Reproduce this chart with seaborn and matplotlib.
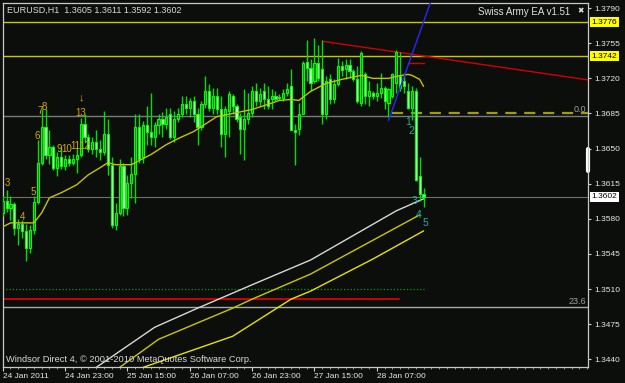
import numpy as np
import pandas as pd
import seaborn as sns
import matplotlib.pyplot as plt
from matplotlib import transforms

# EURUSD H1 bars (bar 0 = 24 Jan 2011 07:00)
opens = [1.3586, 1.3598, 1.3591, 1.3595, 1.3571, 1.3575, 1.3568, 1.3551, 1.3569, 1.3597,
         1.3636, 1.3672, 1.3644, 1.3652, 1.3631, 1.3642, 1.3633, 1.3640, 1.3636, 1.3640,
         1.3644, 1.3675, 1.3662, 1.3650, 1.3657, 1.3650, 1.3647, 1.3665, 1.3634, 1.3574,
         1.3586, 1.3633, 1.3591, 1.3616, 1.3625, 1.3672, 1.3642, 1.3674, 1.3667, 1.3662,
         1.3674, 1.3680, 1.3675, 1.3684, 1.3662, 1.3680, 1.3684, 1.3694, 1.3690, 1.3697,
         1.3684, 1.3672, 1.3694, 1.3707, 1.3690, 1.3702, 1.3689, 1.3665, 1.3687, 1.3702,
         1.3692, 1.3682, 1.3670, 1.3680, 1.3685, 1.3707, 1.3697, 1.3707, 1.3699, 1.3699,
         1.3702, 1.3701, 1.3700, 1.3705, 1.3712, 1.3669, 1.3670, 1.3684, 1.3736, 1.3730,
         1.3717, 1.3735, 1.3729, 1.3684, 1.3719, 1.3699, 1.3714, 1.3732, 1.3729, 1.3733,
         1.3727, 1.3719, 1.3695, 1.3724, 1.3702, 1.3705, 1.3702, 1.3705, 1.3710, 1.3695,
         1.3702, 1.3715, 1.3722, 1.3717, 1.3707, 1.3690, 1.3707, 1.3623, 1.3605]
highs = [1.3603, 1.3609, 1.3603, 1.3597, 1.3580, 1.3579, 1.3575, 1.3574, 1.3603, 1.3659,
         1.3689, 1.3689, 1.3669, 1.3654, 1.3647, 1.3652, 1.3644, 1.3644, 1.3645, 1.3651,
         1.3681, 1.3684, 1.3665, 1.3662, 1.3669, 1.3659, 1.3687, 1.3680, 1.3642, 1.3596,
         1.3640, 1.3636, 1.3624, 1.3642, 1.3684, 1.3684, 1.3678, 1.3692, 1.3705, 1.3677,
         1.3684, 1.3686, 1.3690, 1.3690, 1.3687, 1.3690, 1.3702, 1.3702, 1.3700, 1.3702,
         1.3690, 1.3697, 1.3722, 1.3714, 1.3710, 1.3710, 1.3702, 1.3692, 1.3707, 1.3704,
         1.3694, 1.3685, 1.3709, 1.3705, 1.3712, 1.3715, 1.3710, 1.3715, 1.3712, 1.3709,
         1.3707, 1.3704, 1.3709, 1.3715, 1.3729, 1.3675, 1.3695, 1.3737, 1.3758, 1.3739,
         1.3760, 1.3753, 1.3758, 1.3722, 1.3724, 1.3719, 1.3740, 1.3737, 1.3739, 1.3739,
         1.3729, 1.3732, 1.3747, 1.3726, 1.3717, 1.3707, 1.3715, 1.3725, 1.3712, 1.3710,
         1.3725, 1.3748, 1.3746, 1.3725, 1.3715, 1.3712, 1.3710, 1.3642, 1.3611]
lows = [1.3583, 1.3587, 1.3579, 1.3564, 1.3554, 1.3561, 1.3538, 1.3546, 1.3565, 1.3595,
        1.3634, 1.3640, 1.3635, 1.3629, 1.3623, 1.3630, 1.3629, 1.3633, 1.3634, 1.3626,
        1.3642, 1.3657, 1.3647, 1.3645, 1.3642, 1.3639, 1.3644, 1.3624, 1.3571, 1.3569,
        1.3584, 1.3583, 1.3584, 1.3601, 1.3596, 1.3636, 1.3636, 1.3654, 1.3654, 1.3652,
        1.3665, 1.3662, 1.3670, 1.3660, 1.3657, 1.3677, 1.3682, 1.3684, 1.3682, 1.3677,
        1.3654, 1.3669, 1.3690, 1.3687, 1.3684, 1.3684, 1.3652, 1.3642, 1.3662, 1.3684,
        1.3677, 1.3645, 1.3639, 1.3675, 1.3682, 1.3692, 1.3692, 1.3689, 1.3689, 1.3689,
        1.3697, 1.3698, 1.3697, 1.3702, 1.3669, 1.3634, 1.3664, 1.3684, 1.3717, 1.3707,
        1.3715, 1.3717, 1.3675, 1.3680, 1.3694, 1.3695, 1.3712, 1.3722, 1.3719, 1.3720,
        1.3717, 1.3695, 1.3692, 1.3694, 1.3692, 1.3699, 1.3697, 1.3700, 1.3689, 1.3682,
        1.3700, 1.3705, 1.3707, 1.3705, 1.3689, 1.3679, 1.3618, 1.3598, 1.3592]
closes = [1.3598, 1.3591, 1.3595, 1.3571, 1.3575, 1.3568, 1.3551, 1.3569, 1.3597, 1.3636,
          1.3672, 1.3644, 1.3652, 1.3631, 1.3642, 1.3633, 1.3640, 1.3636, 1.3640, 1.3644,
          1.3675, 1.3662, 1.3650, 1.3657, 1.3650, 1.3647, 1.3665, 1.3634, 1.3574, 1.3586,
          1.3633, 1.3591, 1.3616, 1.3625, 1.3672, 1.3640, 1.3674, 1.3667, 1.3662, 1.3674,
          1.3680, 1.3675, 1.3682, 1.3662, 1.3680, 1.3684, 1.3694, 1.3690, 1.3697, 1.3684,
          1.3672, 1.3694, 1.3707, 1.3690, 1.3702, 1.3689, 1.3665, 1.3689, 1.3704, 1.3692,
          1.3680, 1.3670, 1.3680, 1.3685, 1.3707, 1.3697, 1.3704, 1.3699, 1.3692, 1.3702,
          1.3699, 1.3700, 1.3705, 1.3709, 1.3669, 1.3667, 1.3684, 1.3735, 1.3730, 1.3715,
          1.3735, 1.3720, 1.3684, 1.3717, 1.3699, 1.3714, 1.3732, 1.3728, 1.3733, 1.3727,
          1.3719, 1.3697, 1.3745, 1.3702, 1.3707, 1.3702, 1.3705, 1.3710, 1.3697, 1.3709,
          1.3724, 1.3746, 1.3710, 1.3712, 1.3690, 1.3707, 1.3619, 1.3605, 1.3602]

time_ticks = [0, 16, 32, 48, 64, 80, 96]
time_labels = ["24 Jan 2011", "24 Jan 23:00", "25 Jan 15:00", "26 Jan 07:00",
               "26 Jan 23:00", "27 Jan 15:00", "28 Jan 07:00"]
price_ticks = [1.3790, 1.3755, 1.3720, 1.3685, 1.3650, 1.3615, 1.3580, 1.3545, 1.3510, 1.3475, 1.3440]

# short moving average (yellow, follows price)
ma_bars = [0, 2, 8, 10, 12, 15, 19, 22, 25, 27, 29, 33, 35, 38, 42, 45, 49, 51, 55, 59,
           64, 68, 71, 74, 76, 79, 83, 87, 92, 95, 99, 101, 104, 105, 107, 108]
ma_vals = [1.3572, 1.3576, 1.3576, 1.3586, 1.3601, 1.3606, 1.3614, 1.3624, 1.3631, 1.3636,
           1.3634, 1.3634, 1.3638, 1.3644, 1.3654, 1.3660, 1.3667, 1.3672, 1.3682, 1.3685,
           1.3689, 1.3694, 1.3698, 1.3699, 1.3698, 1.3707, 1.3715, 1.3719, 1.3723, 1.3720,
           1.3720, 1.3722, 1.3724, 1.3723, 1.3719, 1.3712]

# slow averages
white_bars = [22, 24, 39, 50, 65, 79, 101, 108]
white_vals = [1.3428, 1.3432, 1.3472, 1.3491, 1.3516, 1.3539, 1.3588, 1.3600]
yel1_bars = [28, 30, 40, 59, 64, 79, 107]
yel1_vals = [1.3428, 1.3432, 1.3460, 1.3491, 1.3500, 1.3525, 1.3584]
yel2_bars = [34, 36, 59, 74, 79, 95, 108]
yel2_vals = [1.3428, 1.3432, 1.3463, 1.3500, 1.3508, 1.3540, 1.3568]

# horizontal objects: price, first bar, last bar, colour, width, style
levels = [
    (1.3776, -1, 151, "#c8c800", 1.0, "-"),
    (1.3742, -1, 151, "#c8c800", 1.0, "-"),
    (1.3683, -1, 151, "#7a7a7a", 1.0, "-"),
    (1.3685, 100, 151, "#a0a000", 1.6, (0, (5, 3.5))),
    (1.3602, -1, 151, "#6e6e6e", 0.8, "-"),
    (1.3510, -1, 108, "#109a10", 0.9, ":"),
    (1.3500, -1, 101.7, "#d00000", 1.4, "-"),
    (1.3492, -1, 151, "#a8a8a8", 1.0, "-"),
    (1.3735, 104, 108, "#d00000", 1.0, "-"),
]
red_trend = ([82, 150.2], [1.3757, 1.37185])
blue_trend = ([99, 111], [1.3678, 1.3809])

count_labels = [("3", 1.1, 1.3617), ("4", 5.0, 1.3583), ("5", 7.8, 1.3608), ("6", 8.8, 1.3664),
                ("7", 9.6, 1.3688), ("8", 10.8, 1.3692), ("9", 14.5, 1.3651), ("10", 16.4, 1.3651),
                ("11", 18.7, 1.3654), ("12", 21.0, 1.3654), ("13", 20.1, 1.3686)]
arrow_mark = ("\u2193", 20.1, 1.3701)
wave_labels = [("1", 104.0, 1.3678), ("2", 104.8, 1.3669), ("3", 105.6, 1.3599),
               ("4", 106.8, 1.3585), ("5", 108.4, 1.3577)]

bg = "#0c0e0c"
sns.set_theme(style="dark", rc={"axes.facecolor": bg, "figure.facecolor": bg})
plt.rcParams["font.family"] = ["Liberation Sans", "DejaVu Sans"]

df = pd.DataFrame({"open": opens, "high": highs, "low": lows, "close": closes})
df["bar"] = np.arange(len(df))
df["up"] = df["close"] >= df["open"]

fig = plt.figure(figsize=(6.25, 3.83), dpi=100, facecolor=bg)
ax = fig.add_axes([2.5 / 625, 16 / 383, 585.5 / 625, 364.5 / 383])
ax.set_facecolor(bg)

for p, x0, x1, c, lw, ls in levels:
    ax.plot([x0, x1], [p, p], color=c, lw=lw, ls=ls, zorder=1)

sns.lineplot(x=white_bars, y=white_vals, ax=ax, color="#d8d8d8", lw=1.0, estimator=None, sort=False)
sns.lineplot(x=yel1_bars, y=yel1_vals, ax=ax, color="#c8c800", lw=1.0, estimator=None, sort=False)
sns.lineplot(x=yel2_bars, y=yel2_vals, ax=ax, color="#e4e400", lw=1.0, estimator=None, sort=False)

# candles
ax.vlines(df["bar"], df["low"], df["high"], color="#00e000", lw=1.0, zorder=3)
body_lo = df[["open", "close"]].min(axis=1)
body_h = (df["open"] - df["close"]).abs().clip(lower=0.00005)
fills = np.where(df["up"], "#1f7f1f", "#c8ffc8")
ax.bar(df["bar"], body_h, bottom=body_lo, width=0.55, color=fills,
       edgecolor="#00ff00", linewidth=0.8, zorder=4)

sns.lineplot(x=ma_bars, y=ma_vals, ax=ax, color="#c4c400", lw=1.0, estimator=None, sort=False, zorder=5)

ax.plot(*red_trend, color="#d40000", lw=1.0, zorder=2)
ax.plot(*blue_trend, color="#2828ff", lw=1.0, zorder=6)

for t, b, p in count_labels:
    ax.text(b, p, t, color="#d8aa00", fontsize=7, ha="center", va="center_baseline", zorder=7)
ax.text(arrow_mark[1], arrow_mark[2], arrow_mark[0], color="#d8aa00", fontsize=8,
        ha="center", va="center", zorder=7)
for t, b, p in wave_labels:
    ax.text(b, p, t, color="#20b09a", fontsize=7.5, ha="center", va="center_baseline", zorder=7)

ax.set_xlim(-0.05, 150.2)
ax.set_ylim(1.34324, 1.37956)

ax.set_xticks(time_ticks)
ax.set_xticklabels(time_labels, ha="left")
ax.set_xticks(np.arange(0, 151, 2), minor=True)
ax.yaxis.tick_right()
ax.set_yticks(price_ticks)
ax.set_yticklabels([f"{p:.4f}" for p in price_ticks])
ax.tick_params(axis="x", which="major", colors="#d0d0d0", labelcolor="#e8e8e8", labelsize=6,
               length=3, width=0.8, pad=1.5, direction="out", bottom=True)
ax.tick_params(axis="x", which="minor", colors="#a0a0a0", length=1.5, width=0.6, bottom=True)
ax.tick_params(axis="y", colors="#d0d0d0", labelcolor="#e8e8e8", labelsize=6,
               length=2.5, width=0.8, pad=2, direction="out", right=True, left=False)
ax.grid(False)
for s in ax.spines.values():
    s.set_color("#c8c8c8")
    s.set_linewidth(0.9)

# price boxes on the right scale
trans = transforms.blended_transform_factory(ax.transAxes, ax.transData)
for p, fc in [(1.3776, "#ffff00"), (1.3742, "#ffff00"), (1.3602, "#ffffff")]:
    ax.text(1.006, p, f"{p:.4f}", transform=trans, color="black", fontsize=6, ha="left", va="center",
            bbox=dict(boxstyle="square,pad=0.18", fc=fc, ec="none"), clip_on=False)
ax.plot([1.0, 1.0], [1.3650, 1.3628], transform=trans, color="white", lw=3, clip_on=False)

ax.text(0.997, 1.3684, "0.0", transform=trans, color="#a0a0a0", fontsize=6.5, ha="right", va="bottom")
ax.text(0.997, 1.3493, "23.6", transform=trans, color="#a0a0a0", fontsize=6.5, ha="right", va="bottom")

fig.text(7 / 625, 1 - 10 / 383, "EURUSD,H1  1.3605 1.3611 1.3592 1.3602", color="#d8d8d8",
         fontsize=6.5, ha="left", va="center")
fig.text(570 / 625, 1 - 12 / 383, "Swiss Army EA v1.51", color="#e0e0e0", fontsize=7,
         ha="right", va="center")
fig.text(581 / 625, 1 - 12 / 383, "\u2716", color="#e0e0e0", fontsize=5.5, ha="center", va="center")
fig.text(6 / 625, 1 - 359 / 383, "Windsor Direct 4, \u00a9 2001-2010 MetaQuotes Software Corp.",
         color="#d8d8d8", fontsize=6.7, ha="left", va="center")

fig.savefig("out.png", dpi=100, facecolor=bg)
